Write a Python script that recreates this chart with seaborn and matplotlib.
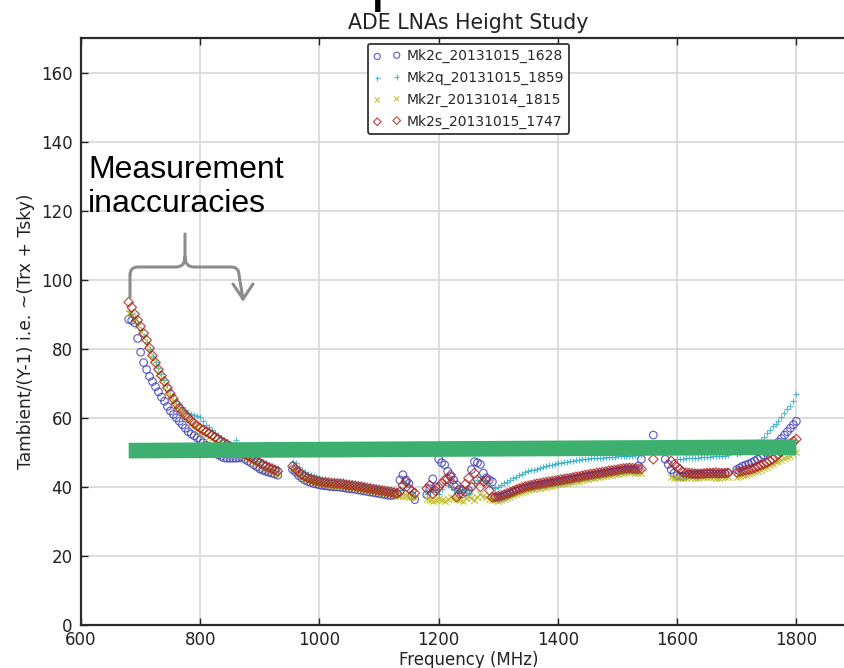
import numpy as np
import pandas as pd
import matplotlib
matplotlib.use("Agg")
import matplotlib.pyplot as plt
import matplotlib.transforms as mtransforms
from matplotlib.path import Path
from matplotlib.patches import PathPatch
import seaborn as sns

nan = np.nan

# Frequency grid of the Y-factor sweep (MHz), 5 MHz steps
freq_mhz = np.arange(680, 1801, 5)

# Tambient/(Y-1) per LNA; each row covers 100 MHz (nan = no sample)
mk2c = [
    88.5, 88.2, 87.5, 83, 79, 76, 74, 72, 70.5, 69, 67.5, 66, 64.8, 63.3, 62, 61, 60, 59, 58, 57,
    56, 55.3, 54.8, 54.2, 53.6, 52.8, 52, 51.2, 50.5, 49.9, 49.3, 48.8, 48.4, 48.3, 48.3, 48.3, 48.3, 48.4, 48.5, 48,
    47.5, 47, 46.4, 45.8, 45.2, 44.8, 44.5, 44.2, 44, 43.7, 43.4, nan, nan, nan, nan, 45, 44.3, 43.3, 42.6, 42,
    41.6, 41.3, 41, 40.8, 40.6, 40.4, 40.3, 40.2, 40.1, 40, 40, 39.9, 39.8, 39.6, 39.5, 39.4, 39.3, 39.1, 39, 38.8,
    38.7, 38.5, 38.4, 38.2, 38.1, 37.9, 37.8, 37.6, 37.5, 37.6, 38, 42, 43.5, 42, 41, 37.5, 36.3, nan, nan, nan,
    37.7, 39.5, 42.3, 40, 48, 47, 46.4, 44.5, 43, 42, 40.6, 39.2, 38, 38.5, 39, 45, 47.3, 47, 46.5, 44,
    42.6, 42, 41.5, 37, 36.8, 37, 37.3, 37.6, 37.9, 38.3, 38.7, 39, 39.3, 39.6, 39.8, 40, 40.2, 40.4, 40.5, 40.7,
    40.8, 41, 41.1, 41.3, 41.4, 41.6, 41.7, 41.9, 42, 42.2, 42.4, 42.5, 42.7, 42.9, 43, 43.2, 43.3, 43.5, 43.6, 43.8,
    43.9, 44.1, 44.2, 44.4, 44.5, 44.7, 44.8, 44.9, 45, 44.9, 44.8, 46, 48, nan, nan, nan, 55, nan, nan, nan,
    48, 46.5, 45, 44, 43.3, 43.1, 43, 43.3, 43.6, 43.5, 43.5, 43.6, 43.6, 43.7, 43.8, 43.8, 43.8, 43.7, 43.7, 43.8,
    43.8, 44, nan, nan, 45, 45.5, 46, 46.3, 46.6, 47, 47.5, 48, 48.5, 49.2, 50, 50.7, 51.5, 52.2, 53, 54,
    55, 56, 57, 58, 59,
]

mk2q = [
    91, 90.2, 89, 87.3, 85.5, 83.8, 82, 80, 78, 76.2, 74.5, 72.7, 71, 69.5, 68, 66.5, 65, 64, 63, 62.2,
    61.5, 61, 60.8, 60.5, 60.3, 59, 58, 57.2, 56.5, 55.7, 55, 54.2, 53.5, 53, 52.5, 52, 53.6, 51.2, 50.5, 50,
    49.5, 49, 48.5, 48, 47.5, 47.1, 46.8, 46.4, 46, 45.7, 45.5, nan, nan, nan, nan, 47.2, 46.8, 45.8, 45, 44.4,
    43.8, 43.5, 43.2, 42.9, 42.6, 42.4, 42.3, 42.1, 42, 41.9, 41.8, 41.7, 41.6, 41.4, 41.3, 41.1, 41, 40.8, 40.7, 40.5,
    40.4, 40.2, 40.1, 39.9, 39.8, 39.6, 39.5, 39.3, 39.2, 39, 38.9, 39, 39, 41, 40.5, 38.5, 37.5, nan, nan, nan,
    38, 38.8, 39.5, 38.5, 38, 39.5, 41, 40.5, 40, 39, 38.5, 39.2, 40, 39, 38, 39.5, 41, 42, 43, 42,
    41, 40.5, 40, 39.8, 40, 40.5, 41, 41.5, 42, 42.5, 43, 43.4, 43.8, 44.2, 44.5, 44.8, 45, 45.3, 45.5, 45.8,
    46, 46.2, 46.4, 46.6, 46.8, 47, 47.1, 47.3, 47.4, 47.6, 47.7, 47.9, 48, 48.1, 48.2, 48.3, 48.4, 48.4, 48.5, 48.5,
    48.6, 48.6, 48.7, 48.7, 48.8, 48.8, 48.9, 48.9, 49, 49, 49.1, 49.1, 49.2, nan, nan, nan, nan, nan, nan, nan,
    nan, nan, nan, nan, 48, 48.1, 48.2, 48.3, 48.4, 48.4, 48.5, 48.5, 48.6, 48.6, 48.7, 48.7, 48.8, 48.8, 48.9, 48.9,
    49, 49.1, nan, nan, 49.5, 49.9, 50.3, 50.8, 51.3, 51.8, 52.3, 52.9, 53.5, 54.5, 55.5, 56.5, 57.5, 58.2, 59, 60.2,
    61.5, 62.5, 63.5, 65, 67,
]

mk2r = [
    90.5, 89.7, 88.5, 86.8, 85, 83, 81, 79, 77, 75, 73, 71.2, 69.5, 67.9, 66.3, 64.8, 63.4, 62.2, 61, 60,
    59, 58.2, 57.5, 56.7, 56, 55.5, 55, 54.5, 54, 53.4, 52.8, 52.3, 51.8, 51.3, 50.8, 50.3, 49.8, 49.4, 49, 48.5,
    48, 47.5, 47, 46.5, 46, 45.6, 45.3, 44.9, 44.5, 44.1, 43.7, nan, nan, nan, nan, 45.4, 44.6, 43.7, 43, 42.4,
    42, 41.7, 41.4, 41.2, 41, 40.8, 40.7, 40.6, 40.5, 40.4, 40.4, 40.3, 40.2, 40.1, 40, 39.8, 39.7, 39.5, 39.4, 39.2,
    39.1, 38.9, 38.8, 38.6, 38.5, 38.3, 38.2, 38, 37.9, 37.7, 37.6, 37.5, 37.5, 37.3, 37.2, 37, 36.8, nan, nan, nan,
    36.5, 36.2, 36, 36.3, 36.5, 36.2, 36, 36.5, 37, 36.8, 36.5, 36.2, 36, 36.8, 37.5, 36.8, 36.2, 37, 38, 37.5,
    37, 36.6, 36.3, 36.1, 36, 36.2, 36.5, 36.8, 37.2, 37.6, 38, 38.3, 38.6, 38.9, 39.1, 39.3, 39.5, 39.7, 39.8, 40,
    40.1, 40.3, 40.4, 40.6, 40.7, 40.9, 41, 41.2, 41.3, 41.5, 41.7, 41.8, 42, 42.2, 42.3, 42.5, 42.6, 42.8, 42.9, 43.1,
    43.2, 43.4, 43.5, 43.7, 43.8, 44, 44.1, 44.2, 44.3, 44.2, 44.1, 44, 44, nan, nan, nan, nan, nan, nan, nan,
    nan, nan, 43, 42.7, 42.5, 42.5, 42.6, 42.7, 42.8, 42.8, 42.7, 42.7, 42.8, 42.8, 42.8, 42.8, 42.8, 42.7, 42.7, 42.8,
    42.8, 42.9, nan, nan, 43, 43.1, 43.3, 43.5, 43.8, 44, 44.3, 44.6, 45, 45.4, 45.8, 46.2, 46.7, 47.1, 47.5, 47.9,
    48.3, 48.6, 49, 49.5, 50,
]

mk2s = [
    93.5, 92, 90, 88.3, 86.5, 84.5, 82.5, 80.2, 78, 76, 74, 72.2, 70.5, 68.7, 67, 65.5, 64, 62.8, 61.8, 60.8,
    60, 59.1, 58.3, 57.6, 57, 56.5, 56, 55.5, 55, 54.4, 53.8, 53.3, 52.8, 52.3, 51.8, 51.3, 50.8, 50.3, 49.8, 49.4,
    49, 48.5, 48, 47.5, 47, 46.5, 46, 45.6, 45.3, 44.9, 44.5, nan, nan, nan, nan, 46, 45.2, 44.3, 43.6, 43,
    42.6, 42.3, 42, 41.8, 41.6, 41.4, 41.3, 41.2, 41.1, 41, 41, 40.9, 40.8, 40.6, 40.5, 40.4, 40.3, 40.1, 40, 39.8,
    39.7, 39.5, 39.4, 39.2, 39.1, 38.9, 38.8, 38.6, 38.5, 38.3, 38.2, 38.6, 40.5, 41.5, 39.5, 38.8, 38.2, nan, nan, nan,
    39.5, 40.5, 38, 38.8, 40, 41, 42, 42.3, 43.5, 40.5, 37, 38, 39, 40.8, 42.5, 40, 44, 42, 40, 41.5,
    42, 39, 37, 37.1, 37.3, 37.5, 37.8, 38.1, 38.4, 38.8, 39.2, 39.5, 39.8, 40.1, 40.3, 40.5, 40.7, 40.9, 41, 41.2,
    41.3, 41.5, 41.6, 41.8, 41.9, 42.1, 42.2, 42.4, 42.5, 42.7, 42.9, 43, 43.2, 43.4, 43.5, 43.7, 43.8, 44, 44.1, 44.3,
    44.4, 44.6, 44.7, 44.9, 45, 45.2, 45.3, 45.4, 45.5, 45.4, 45.3, 45.2, 45.2, nan, nan, nan, 48, nan, nan, nan,
    nan, nan, 47.5, 46.5, 45.8, 45, 44.2, 44.1, 44, 43.9, 43.8, 43.8, 43.8, 43.9, 44, 44, 44, 44.1, 44, 44,
    44, 44.1, nan, nan, 44.2, 44.4, 44.6, 44.8, 45, 45.2, 45.5, 45.9, 46.3, 46.6, 47, 47.5, 48, 48.7, 49.5, 50.2,
    51, 51.8, 52.5, 53.2, 53.8,
]

series_names = ["Mk2c_20131015_1628", "Mk2q_20131015_1859",
                "Mk2r_20131014_1815", "Mk2s_20131015_1747"]
series_values = [mk2c, mk2q, mk2r, mk2s]
series_colors = ["#3a3ab8", "#2aaac4", "#b8b81c", "#a82020"]
series_markers = ["o", "+", "x", "D"]

# Overlay line marking the nominal ~51 K level
level_freq = [680, 1800]
level_temp = [50.5, 51.5]

x_ticks = [600, 800, 1000, 1200, 1400, 1600, 1800]
y_ticks = [0, 20, 40, 60, 80, 100, 120, 140, 160]

frame = pd.DataFrame({"freq": freq_mhz})
for name, vals in zip(series_names, series_values):
    frame[name] = vals
long_df = frame.melt(id_vars="freq", var_name="series", value_name="temp").dropna()

sns.set_style("ticks")
plt.rcParams["font.family"] = ["DejaVu Sans"]

W, H = 844, 668
fig = plt.figure(figsize=(W / 100, H / 100), dpi=100)
ax = fig.add_axes([81 / W, 43 / H, 775 / W, 587 / H])

for name, color, marker in zip(series_names, series_colors, series_markers):
    sub = long_df[long_df["series"] == name]
    if marker in ("o", "D"):
        sns.scatterplot(data=sub, x="freq", y="temp", marker=marker,
                        s=30 if marker == "o" else 24,
                        facecolor="none", edgecolor=color, linewidth=0.85,
                        alpha=0.8, ax=ax, label=name, zorder=3)
    else:
        sns.scatterplot(data=sub, x="freq", y="temp", marker=marker, s=22,
                        color=color, linewidth=0.85, alpha=0.8,
                        ax=ax, label=name, zorder=3)

ax.plot(level_freq, level_temp, color="#3daf6e", lw=11.3,
        solid_capstyle="butt", zorder=4)

ax.set_xlim(600, 1900)
ax.set_ylim(0, 170)
ax.set_xticks(x_ticks)
ax.set_yticks(y_ticks)
ax.grid(True, color="#dadada", lw=1.3)
ax.set_axisbelow(True)
ax.tick_params(direction="in", length=5, width=1.0, colors="#222222",
               labelsize=12, top=True, right=True)
ax.tick_params(axis="y", pad=6)
ax.tick_params(axis="x", pad=4)
for sp in ax.spines.values():
    sp.set_linewidth(1.6)
    sp.set_color("#2a2a2a")

ax.set_title("ADE LNAs Height Study", fontsize=14.8, pad=6.5, color="#222222")
ax.set_xlabel("Frequency (MHz)", fontsize=12, color="#222222", labelpad=1.5)
ax.set_ylabel("Tambient/(Y-1) i.e. ~(Trx + Tsky)", fontsize=12.3,
              color="#222222", labelpad=4)

leg = ax.legend(loc="upper center", scatterpoints=2, fontsize=10,
                frameon=True, fancybox=True, edgecolor="#333333",
                framealpha=1, borderaxespad=0.4, handletextpad=0.4,
                labelspacing=0.55, markerscale=0.8, borderpad=0.4)
leg.get_frame().set_linewidth(1.3)

# Pixel-based transform for the slide annotations (origin at top-left)
pix = mtransforms.Affine2D().scale(1 / W, -1 / H).translate(0, 1) + fig.transFigure

fig.text(370, -0.5, "p", transform=pix, fontsize=44,
         family=["Liberation Sans"], va="baseline", color="black")

fig.text(88, 178, "Measurement", transform=pix, fontsize=23,
         family=["Liberation Sans"], va="baseline", color="black")
fig.text(88, 212, "inaccuracies", transform=pix, fontsize=23,
         family=["Liberation Sans"], va="baseline", color="black")

brace_verts = [
    (130, 297), (130, 275), (130, 267), (138, 267), (176, 267),
    (185, 267), (185, 257), (185, 234),
    (185, 257), (185, 267), (194, 267), (231, 267), (239, 267),
    (239, 275), (243, 299),
    (233, 284), (243, 299), (253, 284),
]
brace_codes = [
    Path.MOVETO, Path.LINETO, Path.CURVE3, Path.CURVE3, Path.LINETO,
    Path.CURVE3, Path.CURVE3, Path.LINETO,
    Path.MOVETO, Path.CURVE3, Path.CURVE3, Path.LINETO, Path.CURVE3,
    Path.CURVE3, Path.LINETO,
    Path.MOVETO, Path.LINETO, Path.LINETO,
]
brace = PathPatch(Path(brace_verts, brace_codes), transform=pix, fill=False,
                  edgecolor="#8c8c8c", lw=2.2, capstyle="round",
                  joinstyle="round", zorder=6)
fig.add_artist(brace)

fig.savefig("out.png", dpi=100)
